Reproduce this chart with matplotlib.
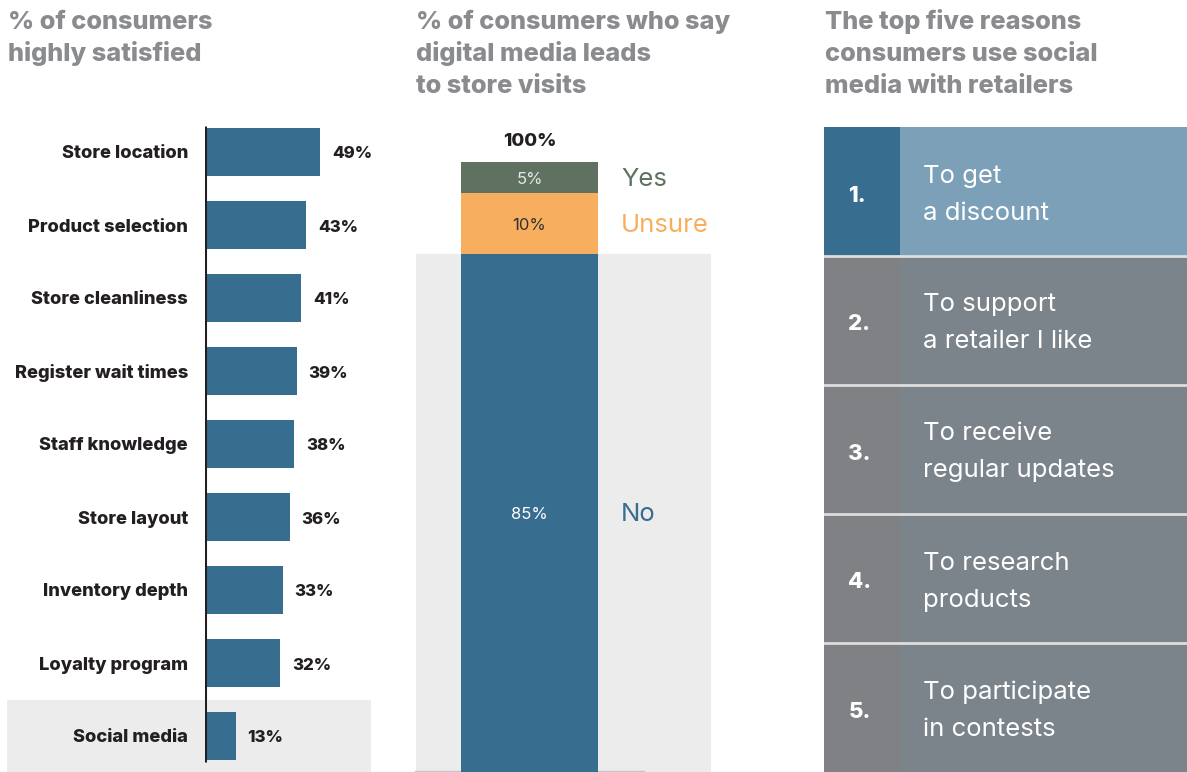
import matplotlib
matplotlib.use('Agg')
import matplotlib.pyplot as plt
from matplotlib.patches import Rectangle
from matplotlib.transforms import blended_transform_factory

# panel 1 data
factors = ['Store location', 'Product selection', 'Store cleanliness', 'Register wait times',
           'Staff knowledge', 'Store layout', 'Inventory depth', 'Loyalty program', 'Social media']
satisfied = [49, 43, 41, 39, 38, 36, 33, 32, 13]

# panel 2 data
answers = ['No', 'Unsure', 'Yes']
answer_share = [85, 10, 5]
answer_colors = ['#376d8f', '#f8ae5f', '#5f7262']
answer_text_colors = ['#ffffff', '#333333', '#e6e6e6']

# panel 3 data
ranks = ['1.', '2.', '3.', '4.', '5.']
reasons = ['To get\na discount', 'To support\na retailer I like', 'To receive\nregular updates',
           'To research\nproducts', 'To participate\nin contests']

TITLE_GREY = '#898b8e'
DARK = '#231f20'
FONT = 'Inter'
W, H = 1187, 772

fig = plt.figure(figsize=(W / 100, H / 100), dpi=100)
fig.patch.set_facecolor('white')


def px_axes(x0, y0, x1, y1):
    ax = fig.add_axes([x0 / W, 1 - y1 / H, (x1 - x0) / W, (y1 - y0) / H])
    ax.axis('off')
    return ax


def title(x, text):
    # one text per line so the line pitch stays even (32 px baselines)
    for k, line in enumerate(text.split('\n')):
        fig.text(x / W, 1 - (29 + 32 * k) / H, line, ha='left', va='baseline',
                 fontsize=18.3, fontweight='heavy', color=TITLE_GREY, family=FONT)


title(8, '% of consumers\nhighly satisfied')
title(416, '% of consumers who say\ndigital media leads\nto store visits')
title(825, 'The top five reasons\nconsumers use social\nmedia with retailers')

# ---- panel 1: horizontal bars
ax1 = px_axes(205, 115.5, 371, 772.5)
ax1.set_xlim(0, (371 - 205) / 2.35)
ax1.set_ylim(len(factors) - 0.5, -0.5)
trans = blended_transform_factory(ax1.transAxes, ax1.transData)
ax1.add_patch(Rectangle(((7 - 205) / 166, len(factors) - 1.5), (371 - 7) / 166, 1.0,
                        transform=trans, facecolor='#ececec', edgecolor='none',
                        clip_on=False, zorder=0))
ys = list(range(len(factors)))
ax1.barh(ys, satisfied, height=0.66, color='#376d8f', zorder=2)
ax1.vlines(0, -0.35, len(factors) - 0.65, color=DARK, lw=2.2, zorder=3)
for y, name, v in zip(ys, factors, satisfied):
    ax1.annotate(name, xy=(0, y), xytext=(-17, -2), textcoords='offset pixels',
                 ha='right', va='center', fontsize=13.2, fontweight='heavy', color=DARK,
                 family=FONT, annotation_clip=False)
    ax1.annotate(f'{v}%', xy=(v, y), xytext=(12, -2), textcoords='offset pixels',
                 ha='left', va='center', fontsize=12.2, fontweight='heavy', color=DARK,
                 family=FONT, annotation_clip=False)

# ---- panel 2: stacked bar
ax2 = px_axes(416, 162, 711, 772)
ax2.set_xlim(0, 1)
ax2.set_ylim(0, sum(answer_share))
ax2.axhspan(0, answer_share[0], color='#ececec', zorder=0)
ax2.axhline(0, xmin=0, xmax=(643 - 416) / 295, color='#c8c8c8', lw=2.5, zorder=1, clip_on=False)
bottom = 0
for name, v, c, tc in zip(answers, answer_share, answer_colors, answer_text_colors):
    ax2.bar(0.385, v, bottom=bottom, width=0.464, color=c, zorder=2)
    mid = bottom + v / 2
    ax2.annotate(f'{v}%', xy=(0.385, mid), xytext=(0, -2), textcoords='offset pixels',
                 ha='center', va='center', fontsize=12, color=tc,
                 family=FONT, fontweight='normal', zorder=3)
    ax2.annotate(name, xy=(0.695, mid), xytext=(0, -2), textcoords='offset pixels',
                 ha='left', va='center', fontsize=18.5, color=c,
                 family=FONT, fontweight='normal', zorder=3, annotation_clip=False)
    bottom += v
ax2.annotate(f'{sum(answer_share)}%', xy=(0.385, bottom), xytext=(0, 21),
             textcoords='offset pixels', ha='center', va='center', fontsize=13.5,
             fontweight='heavy', color=DARK, family=FONT, annotation_clip=False)

# ---- panel 3: ranked list
ax3 = px_axes(824, 127, 1187, 772)
ax3.set_xlim(0, 1)
ax3.set_ylim(len(ranks), 0)
num_w = 76 / 363
for i, (r, txt) in enumerate(zip(ranks, reasons)):
    left_c, right_c = ('#376d8f', '#7ca0b7') if i == 0 else ('#7f8185', '#7b838b')
    ax3.barh(i + 0.5, num_w, height=1, left=0, color=left_c, zorder=1)
    ax3.barh(i + 0.5, 1 - num_w, height=1, left=num_w, color=right_c, zorder=1)
    ax3.annotate(r, xy=(0.067, i + 0.5), xytext=(0, -10), textcoords='offset pixels',
                 ha='left', va='baseline', fontsize=16, fontweight='heavy',
                 color='white', family=FONT, zorder=3)
    first, second = txt.split('\n')
    for line, dy in ((first, 9), (second, -28)):
        ax3.annotate(line, xy=(0.273, i + 0.5), xytext=(0, dy), textcoords='offset pixels',
                     ha='left', va='baseline', fontsize=18.5, fontweight='normal',
                     color='white', family=FONT, zorder=3)
for i in range(1, len(ranks)):
    ax3.axhline(i, color='#dedede', lw=2, zorder=2)

fig.savefig('out.png', dpi=100)
